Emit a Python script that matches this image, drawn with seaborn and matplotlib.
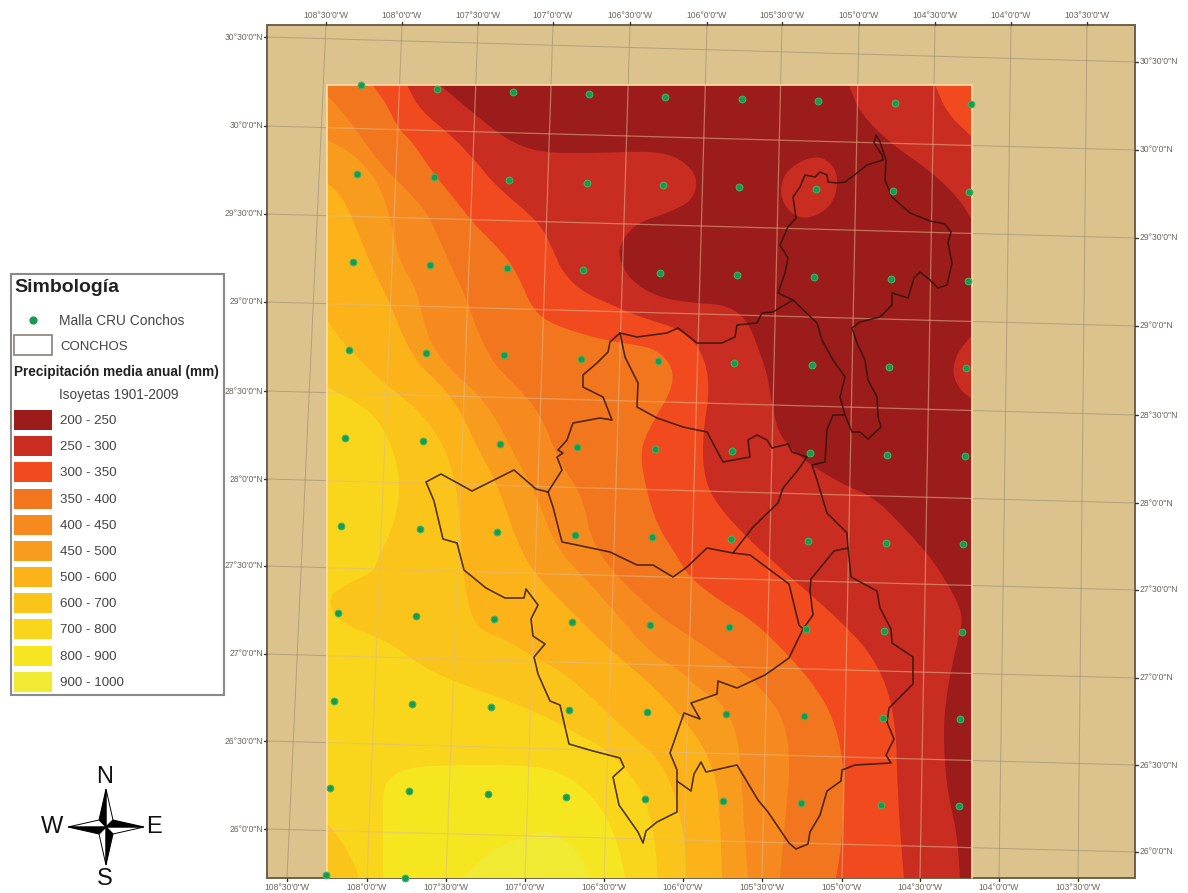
import matplotlib
matplotlib.use('Agg')
import matplotlib.pyplot as plt
from matplotlib.patches import Rectangle
import numpy as np
import pandas as pd
import seaborn as sns

# everything in pixel units of the map sheet
class_labels = ['200 - 250', '250 - 300', '300 - 350', '350 - 400', '400 - 450', '450 - 500',
                '500 - 600', '600 - 700', '700 - 800', '800 - 900', '900 - 1000']
class_colors = ['#9C1C1C', '#C92D22', '#F04A1E', '#F2761E', '#F68A1F', '#F89C1E',
                '#FCB31A', '#FBC41A', '#F9D51C', '#F6E61F', '#F0EA32']

lon_labels = ['108°30\'0"W', '108°0\'0"W', '107°30\'0"W', '107°0\'0"W', '106°30\'0"W', '106°0\'0"W',
              '105°30\'0"W', '105°0\'0"W', '104°30\'0"W', '104°0\'0"W', '103°30\'0"W']
lon_top = [326, 402, 478, 553, 630, 707, 782, 859, 935, 1011, 1087]
lon_bottom = [287, 367, 446, 525, 604, 683, 762, 842, 920, 999, 1078]

lat_labels = ['30°30\'0"N', '30°0\'0"N', '29°30\'0"N', '29°0\'0"N', '28°30\'0"N',
              '28°0\'0"N', '27°30\'0"N', '27°0\'0"N', '26°30\'0"N', '26°0\'0"N']
lat_left = [37, 126, 214, 302, 391, 479, 566, 654, 741, 829]
lat_right = [62, 150, 238, 326, 415, 503, 590, 678, 765, 852]

# CRU grid nodes
cru_x = [361, 437, 513, 589, 665, 742, 818, 895, 971,
         357, 434, 509, 587, 663, 739, 816, 893, 969,
         353, 430, 507, 583, 660, 737, 814, 891, 968,
         349, 426, 504, 581, 658, 734, 812, 889, 966,
         345, 423, 500, 577, 655, 732, 810, 887, 965,
         341, 420, 497, 575, 652, 731, 808, 886, 963,
         338, 416, 494, 572, 650, 729, 806, 884, 962,
         334, 412, 491, 569, 647, 726, 804, 883, 960,
         330, 409, 488, 566, 645, 723, 801, 881, 959,
         326, 405]
cru_y = [85, 89, 92, 94, 97, 99, 101, 103, 104,
         174, 177, 180, 183, 185, 187, 189, 191, 192,
         262, 265, 268, 270, 273, 275, 277, 279, 281,
         350, 353, 355, 359, 361, 363, 365, 367, 368,
         438, 441, 444, 447, 449, 451, 453, 455, 456,
         526, 529, 532, 535, 537, 539, 541, 543, 544,
         613, 616, 619, 622, 625, 627, 629, 631, 632,
         701, 704, 707, 710, 712, 714, 716, 718, 719,
         788, 791, 794, 797, 799, 801, 803, 805, 806,
         875, 878]

# isohyets, each one has the drier side to the north east
iso_700 = [(327, 387), (353, 400), (377, 417), (397, 457), (400, 497), (392, 530), (377, 560), (374, 572),
           (340, 587), (328, 600), (337, 620), (363, 632), (390, 643), (417, 663), (450, 680), (487, 693),
           (523, 707), (553, 720), (583, 737), (607, 750), (633, 777), (647, 803), (655, 840), (658, 878)]
iso_600 = [(327, 320), (343, 343), (360, 360), (380, 380), (410, 403), (433, 427), (450, 460), (457, 493),
           (460, 523), (463, 573), (470, 613), (480, 630), (507, 640), (533, 657), (560, 670), (587, 693),
           (610, 715), (633, 737), (657, 757), (673, 787), (685, 837), (686, 878)]
iso_500 = [(327, 183), (343, 197), (357, 230), (370, 263), (390, 303), (400, 330), (417, 363), (443, 387),
           (460, 410), (477, 447), (497, 483), (520, 550), (540, 580), (573, 613), (610, 650), (650, 683),
           (680, 715), (703, 745), (717, 780), (720, 820), (722, 878)]
iso_450 = [(327, 140), (347, 150), (367, 167), (383, 193), (393, 230), (400, 263), (417, 290), (427, 337),
           (447, 367), (477, 393), (497, 420), (517, 460), (533, 487), (557, 550), (587, 580), (613, 610),
           (650, 653), (680, 670), (700, 690), (720, 700), (738, 733), (742, 790), (745, 840), (748, 878)]
iso_400 = [(327, 95), (347, 117), (363, 140), (383, 167), (407, 190), (427, 213), (435, 230), (453, 270),
           (467, 300), (477, 330), (493, 363), (517, 387), (540, 413), (560, 463), (583, 497), (593, 550),
           (650, 610), (700, 643), (720, 657), (750, 677), (777, 707), (787, 733), (790, 767), (786, 810),
           (780, 878)]
iso_350 = [(373, 85), (388, 107), (398, 128), (413, 143), (433, 173), (453, 197), (473, 223), (507, 257),
           (520, 280), (533, 310), (553, 325), (603, 340), (637, 345), (657, 350), (673, 367), (672, 390),
           (652, 423), (640, 450), (645, 485), (657, 525), (675, 553), (689, 577), (720, 601), (755, 622),
           (789, 656), (813, 684), (830, 711), (841, 746), (845, 790), (841, 850), (836, 878)]
iso_300 = [(407, 85), (420, 110), (453, 137), (477, 163), (497, 187), (540, 223), (553, 250), (563, 273),
           (583, 292), (607, 303), (640, 317), (683, 330), (703, 353), (710, 387), (703, 433), (703, 470),
           (712, 498), (741, 532), (779, 567), (810, 594), (841, 622), (868, 650), (887, 685), (896, 730),
           (897, 775), (900, 830), (904, 878)]
iso_250 = [(440, 85), (473, 113), (507, 140), (540, 153), (600, 153), (653, 151), (680, 158), (698, 177),
           (693, 200), (670, 212), (637, 223), (622, 240), (618, 257), (630, 280), (657, 297), (693, 303),
           (727, 305), (747, 320), (757, 345), (767, 373), (773, 410), (780, 437), (803, 460), (840, 483),
           (873, 497), (900, 523), (933, 560), (957, 600), (963, 620), (957, 643), (947, 690), (943, 733),
           (947, 790), (957, 833), (960, 878)]
# patches that sit inside the driest class or in the south west corner
ne_250 = [(849, 85), (860, 113), (890, 143), (933, 173), (960, 200), (972, 220)]
ne_300 = [(935, 85), (947, 113), (972, 137)]
lobe_north = [(780, 187), (787, 170), (807, 158), (823, 157), (837, 170), (837, 193), (827, 210), (807, 219),
              (793, 215), (783, 203)]
lobe_east = [(972, 335), (957, 353), (952, 373), (960, 390), (972, 399)]
sw_corner = [(327, 823), (343, 843), (357, 870), (358, 878)]
iso_800 = [(383, 878), (383, 833), (383, 790), (390, 777), (410, 767), (453, 765), (520, 765), (557, 770),
           (587, 790), (607, 817), (620, 850), (625, 878)]
iso_900 = [(463, 878), (487, 853), (520, 837), (547, 830), (567, 840), (583, 860), (590, 878)]

# Conchos basin outline
basin_segments = {
    'north': [(793, 300), (778, 293), (785, 273), (788, 258), (780, 245), (788, 227), (796, 218), (793, 197),
              (800, 187), (805, 175), (815, 177), (820, 172), (827, 175), (828, 182), (837, 183), (845, 182),
              (857, 173), (867, 165), (883, 160), (882, 155), (874, 143), (876, 135), (880, 142), (886, 160),
              (885, 180), (892, 197), (910, 213), (930, 221), (945, 224), (951, 232), (948, 243), (952, 263),
              (947, 285), (938, 288), (930, 280), (920, 272), (914, 278), (908, 298), (892, 293), (892, 305),
              (880, 317), (860, 322), (852, 328), (857, 343), (865, 360), (868, 380), (877, 397), (878, 417),
              (881, 427), (868, 439), (860, 432), (852, 432), (845, 415)],
    'centre': [(793, 300), (817, 323), (822, 340), (833, 360), (845, 377), (840, 397), (845, 415), (833, 415),
               (827, 430), (825, 462), (812, 465), (817, 480), (827, 513), (847, 533), (848, 548), (851, 577),
               (877, 591), (880, 608), (891, 629), (892, 643), (913, 657), (913, 684), (896, 701), (889, 708),
               (887, 722), (894, 739), (886, 755), (891, 763), (855, 765), (842, 770), (841, 781), (827, 791),
               (820, 815), (810, 832), (808, 844), (796, 849), (789, 843), (768, 812), (758, 800), (737, 765),
               (706, 772), (701, 762), (694, 774), (691, 791), (677, 781)],
    'top_west': [(793, 300), (773, 312), (762, 313), (757, 323), (737, 325), (735, 337), (722, 343), (697, 343),
                 (678, 328), (667, 333), (637, 337), (620, 333)],
    'west_lobe': [(620, 333), (610, 342), (608, 352), (597, 363), (583, 375), (583, 387), (603, 397), (612, 420),
                  (600, 418), (573, 423), (567, 440), (558, 450), (563, 453), (557, 457), (562, 470), (548, 492)],
    'mid_east': [(620, 333), (625, 357), (638, 383), (637, 407), (657, 418), (683, 427), (707, 432), (715, 447),
                 (723, 462), (750, 457), (748, 440), (757, 435), (767, 440), (772, 448), (788, 444), (792, 452),
                 (807, 457), (798, 470), (783, 488), (778, 503), (753, 527), (733, 553)],
    'mid_south': [(548, 492), (553, 507), (562, 542), (577, 545), (610, 552), (637, 565), (653, 565), (673, 577),
                  (687, 567), (707, 548), (733, 553), (750, 555), (789, 584), (799, 625), (803, 629)],
    'south': [(848, 548), (834, 551), (811, 579), (810, 591), (813, 615), (803, 629), (789, 658), (765, 675),
              (737, 688), (718, 681), (717, 694), (691, 703), (700, 719), (684, 713), (670, 753), (677, 770),
              (677, 812), (657, 822), (646, 831), (643, 843), (638, 832), (619, 805), (613, 777), (624, 767),
              (620, 758), (593, 751), (569, 744), (560, 705), (550, 701), (538, 674), (534, 657), (545, 644),
              (533, 636), (531, 619), (538, 605), (526, 589), (524, 598), (505, 598), (486, 588), (464, 570),
              (457, 543), (443, 539), (434, 501), (426, 482), (441, 474), (472, 491), (514, 470), (536, 489),
              (548, 492)],
}

legend_swatch_y = [420, 446, 472, 499, 525, 551, 577, 603, 629, 656, 682]
TAN = '#DCC28C'
RASTER = (327, 85, 972, 878)


def smooth(pts, rounds=2, closed=False):
    # corner cutting so the digitised curves do not look like polygons
    pts = np.array(pts, dtype=float)
    for _ in range(rounds):
        a = pts if closed else pts[:-1]
        b = np.roll(pts, -1, axis=0) if closed else pts[1:]
        q = np.column_stack([0.75 * a + 0.25 * b, 0.25 * a + 0.75 * b]).reshape(-1, 2)
        pts = q if closed else np.vstack([pts[0], q, pts[-1]])
    return pts


def paint_ne(ax, curve, color, clip, z=2):
    # fill from the isohyet round the north east corner of the raster
    line = smooth(curve)
    corner = np.array([[RASTER[2], RASTER[3]], [RASTER[2], RASTER[1]]], dtype=float)
    if curve[0][0] == RASTER[0]:
        corner = np.vstack([corner, [RASTER[0], RASTER[1]]])
    pts = np.vstack([line, corner])
    ax.fill(pts[:, 0], pts[:, 1], color=color, lw=0, zorder=z, clip_path=clip)


sns.set_theme(style='white')
plt.rcParams['font.family'] = ['Liberation Sans', 'DejaVu Sans']

fig = plt.figure(figsize=(11.88, 8.93), dpi=100)
ax = fig.add_axes([0, 0, 1, 1])
ax.set_xlim(0, 1188)
ax.set_ylim(893, 0)
ax.axis('off')

# sheet background and frame
ax.add_patch(Rectangle((267, 25), 868, 853, facecolor=TAN, edgecolor='#6E604C', lw=1.4, zorder=1))

for xt, xb in zip(lon_top, lon_bottom):
    ax.plot([xt, xb], [25, 878], color='#8E8672', lw=0.7, alpha=0.55, zorder=1.5)
for yl, yr in zip(lat_left, lat_right):
    ax.plot([267, 1135], [yl, yr], color='#8E8672', lw=0.7, alpha=0.55, zorder=1.5)

# precipitation classes, wettest first
raster_box = Rectangle((RASTER[0], RASTER[1]), RASTER[2] - RASTER[0], RASTER[3] - RASTER[1],
                       facecolor=class_colors[8], edgecolor='none', zorder=2)
ax.add_patch(raster_box)
clip = raster_box

blob = smooth(iso_800)
ax.fill(blob[:, 0], blob[:, 1], color=class_colors[9], lw=0, zorder=2, clip_path=clip)
blob = smooth(iso_900)
ax.fill(blob[:, 0], blob[:, 1], color=class_colors[10], lw=0, zorder=2, clip_path=clip)
corner = smooth(sw_corner)
ax.fill(np.r_[corner[:, 0], 327], np.r_[corner[:, 1], 878], color=class_colors[7], lw=0, zorder=2, clip_path=clip)

for curve, idx in [(iso_700, 7), (iso_600, 6), (iso_500, 5), (iso_450, 4), (iso_400, 3),
                   (iso_350, 2), (iso_300, 1), (iso_250, 0)]:
    paint_ne(ax, curve, class_colors[idx], clip)

for patch, idx in [(ne_250, 1), (ne_300, 2)]:
    line = smooth(patch)
    ax.fill(np.r_[line[:, 0], RASTER[2]], np.r_[line[:, 1], RASTER[1]], color=class_colors[idx], lw=0,
            zorder=2, clip_path=clip)
line = smooth(lobe_north, closed=True)
ax.fill(line[:, 0], line[:, 1], color=class_colors[1], lw=0, zorder=2, clip_path=clip)
line = smooth(lobe_east)
ax.fill(line[:, 0], line[:, 1], color=class_colors[1], lw=0, zorder=2, clip_path=clip)

# graticule shows through the raster as pale lines
for xt, xb in zip(lon_top, lon_bottom):
    ln, = ax.plot([xt, xb], [25, 878], color='#DDBB8E', lw=0.9, alpha=0.55, zorder=3)
    ln.set_clip_path(raster_box)
for yl, yr in zip(lat_left, lat_right):
    ln, = ax.plot([267, 1135], [yl, yr], color='#DDBB8E', lw=0.9, alpha=0.55, zorder=3)
    ln.set_clip_path(raster_box)

# pale edge of the raster
ax.plot([RASTER[0], RASTER[0], RASTER[2], RASTER[2]], [RASTER[3], RASTER[1], RASTER[1], RASTER[3]],
        color='#FFDCA6', lw=1.2, zorder=3)

basin = pd.concat([pd.DataFrame(pts, columns=['x', 'y']).assign(seg=name) for name, pts in basin_segments.items()])
sns.lineplot(data=basin, x='x', y='y', units='seg', estimator=None, sort=False, color='#2E1408',
             lw=1.15, alpha=0.85, legend=False, ax=ax, zorder=4)

sns.scatterplot(x=cru_x, y=cru_y, color='#1A9A50', edgecolor='#3CB860', s=24, linewidth=0.7, ax=ax, zorder=5,
                clip_on=False, legend=False)

# tick marks and labels of the frame
tick_style = dict(fontsize=6.2, color='#6A655C')
for x, lab in zip(lon_top, lon_labels):
    ax.plot([x, x], [22, 25], color='#3C3428', lw=1, zorder=1)
    ax.text(x, 16, lab, ha='center', va='center', **tick_style)
for x, lab in zip(lon_bottom, lon_labels):
    ax.plot([x, x], [878, 881], color='#3C3428', lw=1, zorder=1)
    ax.text(x, 887, lab, ha='center', va='center', **tick_style)
for y, lab in zip(lat_left, lat_labels):
    ax.plot([264, 267], [y, y], color='#3C3428', lw=1, zorder=1)
    ax.text(263, y, lab, ha='right', va='center', **tick_style)
for y, lab in zip(lat_right, lat_labels):
    ax.plot([1135, 1138], [y, y], color='#3C3428', lw=1, zorder=1)
    ax.text(1140, y, lab, ha='left', va='center', **tick_style)

# legend box
ax.add_patch(Rectangle((11, 274), 213, 421, facecolor='white', edgecolor='#8A8A8A', lw=1.5, zorder=6))
ax.text(14, 288, 'Simbología', fontsize=14, fontweight='bold', color='#222222', va='center', zorder=7)
ax.scatter([33], [320], s=24, color='#1A9A50', zorder=7)
ax.text(59, 321, 'Malla CRU Conchos', fontsize=9.9, color='#444444', va='center', zorder=7)
ax.add_patch(Rectangle((14, 335), 38, 20, facecolor='white', edgecolor='#8A8078', lw=1.2, zorder=7))
ax.text(60, 347, 'CONCHOS', fontsize=9.5, color='#444444', va='center', zorder=7)
ax.text(14, 372, 'Precipitación media anual (mm)', fontsize=9.8, fontweight='bold', color='#222222',
        va='center', zorder=7)
ax.text(59, 395, 'Isoyetas 1901-2009', fontsize=9.8, color='#444444', va='center', zorder=7)
for y, lab, col in zip(legend_swatch_y, class_labels, class_colors):
    ax.add_patch(Rectangle((14, y - 10), 38, 20, facecolor=col, edgecolor='none', zorder=7))
    ax.text(60, y + 1, lab, fontsize=9.6, color='#444444', va='center', zorder=7)

# north arrow
cx, cy = 106, 827
arm = 38
waist = 7
for ux, uy in [(0, -1), (1, 0), (0, 1), (-1, 0)]:
    px, py = -uy, ux
    tip = (cx + ux * arm, cy + uy * arm)
    side_a = (cx + (ux + px) * waist, cy + (uy + py) * waist)
    side_b = (cx + (ux - px) * waist, cy + (uy - py) * waist)
    ax.fill([cx, tip[0], side_a[0]], [cy, tip[1], side_a[1]], facecolor='white', edgecolor='black', lw=0.7, zorder=6)
    ax.fill([cx, tip[0], side_b[0]], [cy, tip[1], side_b[1]], facecolor='black', edgecolor='black', lw=0.7, zorder=6)
for lab, x, y in [('N', 105, 777), ('S', 105, 879), ('W', 52, 827), ('E', 154, 827)]:
    ax.text(x, y, lab, fontsize=17, color='#111111', ha='center', va='center', zorder=7)

ax.set_xlim(0, 1188)
ax.set_ylim(893, 0)
ax.axis('off')
fig.savefig('out.png', dpi=100, facecolor='white')
